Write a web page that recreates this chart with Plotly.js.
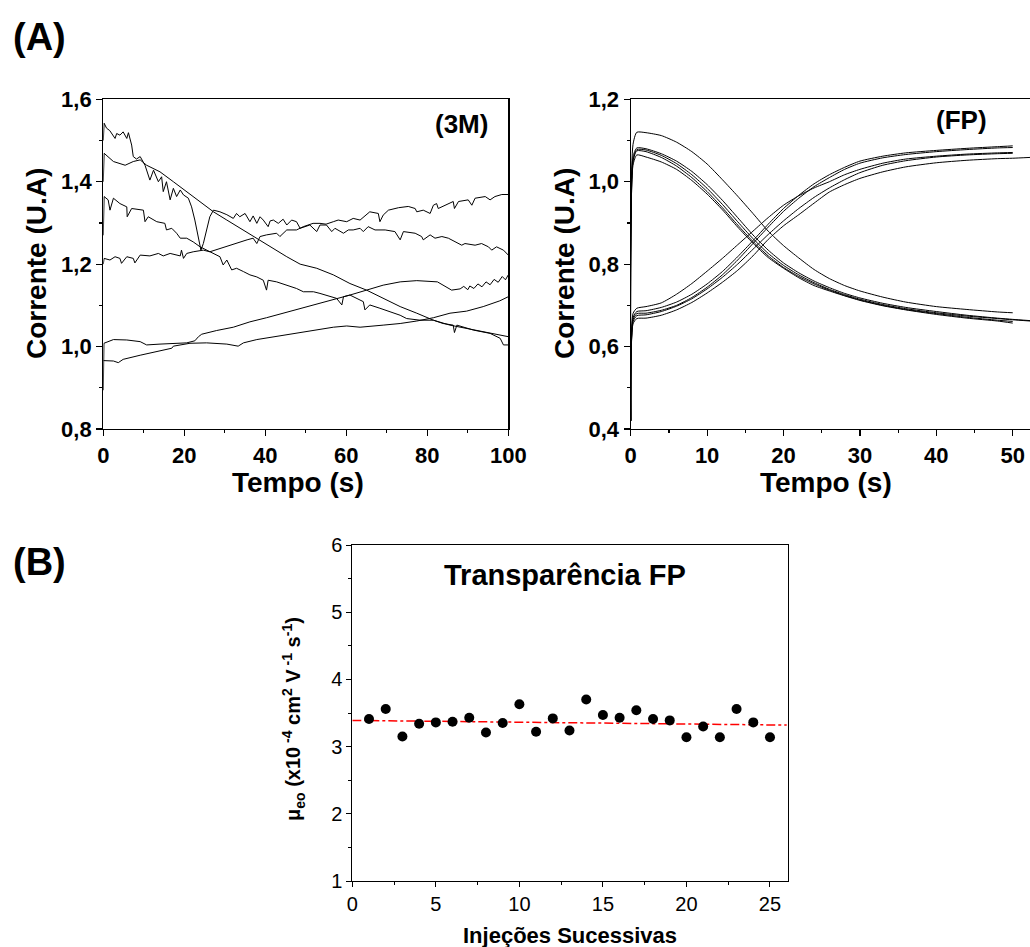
<!DOCTYPE html>
<html>
<head>
<meta charset="utf-8">
<script src="https://cdn.plot.ly/plotly-3.0.1.min.js"></script>
<style>
html,body{margin:0;padding:0;background:#fff;}
#chart{width:1030px;height:947px;}
</style>
</head>
<body>
<div id="chart"></div>
<script>
// ---------- DATA: panel (3M) ----------
const xA = [0,0.2,0.8,1.6,2.9,3.3,4.1,4.9,5.8,6.2,7.0,7.4,8.2,9.1,10.3,11.5,12.4,13.6,14.4,14.8,15.6,16.5,17.3,18.1,19.0,19.8,21.0,21.8,22.6,23.5,24.1,24.7,25.5,26.3,27.2,
  28.8,30.5,32.1,32.9,33.7,35.0,36.2,37.0,37.9,38.7,39.5,40.7,41.2,42.0,43.2,44.4,45.3,46.5,47.7,48.6,51.0,52.7,53.5,55.1,56.4,57.2,59.3,60.5,61.7,63.4,64.2,65.4,67.1,69.6,72.0,73.3,74.1,77.0,78.6,79.0,80.7,81.9,83.6,85.2,86.8,88.5,89.3,91.8,93.4,95.1,95.9,97.1,98.8,100];
const yA = [1.50,1.542,1.530,1.524,1.505,1.517,1.513,1.521,1.505,1.519,1.489,1.461,1.455,1.461,1.440,1.404,1.428,1.400,1.412,1.376,1.400,1.356,1.384,1.364,1.380,1.368,1.360,1.339,1.307,1.267,1.234,1.250,1.283,1.315,1.331,
  1.327,1.320,1.311,1.323,1.315,1.323,1.303,1.317,1.299,1.315,1.307,1.291,1.305,1.307,1.299,1.309,1.295,1.307,1.303,1.287,1.295,1.279,1.295,1.295,1.279,1.287,1.275,1.283,1.283,1.287,1.279,1.291,1.283,1.283,1.279,1.259,1.279,1.275,1.267,1.259,1.271,1.263,1.267,1.263,1.255,1.246,1.250,1.246,1.250,1.242,1.234,1.242,1.234,1.222];

const xB = [0,0.2,1.65,2.9,4.1,4.5,5.8,7.4,7.8,9.1,11.5,13.6,14.8,16.5,19.0,19.3,19.8,20.6,22.2,24.7,26.3,
  28.8,31.3,33.7,35.5,37.0,37.9,38.7,40.3,42.8,43.6,45.3,47.7,49.4,51.8,53.5,55.0,56.8,58.0,60.1,61.7,63.4,65.0,65.8,67.9,68.3,69.1,70.4,72.9,75.3,77.0,77.4,79.0,80.7,81.5,82.3,82.7,84.4,86.4,86.7,87.7,90.1,91.0,91.8,94.3,95.5,96.7,98.4,100];
const yB = [1.20,1.214,1.210,1.218,1.214,1.202,1.218,1.214,1.203,1.222,1.220,1.226,1.220,1.226,1.220,1.234,1.214,1.226,1.230,1.234,1.230,
  1.238,1.247,1.255,1.259,1.263,1.250,1.267,1.271,1.275,1.267,1.283,1.283,1.291,1.299,1.299,1.297,1.303,1.307,1.303,1.311,1.307,1.319,1.327,1.323,1.303,1.319,1.331,1.337,1.340,1.335,1.327,1.331,1.323,1.343,1.347,1.335,1.343,1.352,1.335,1.352,1.356,1.343,1.360,1.364,1.356,1.364,1.369,1.369];

const xC = [0,0.2,2.5,5.4,7.4,9.1,10.7,14.0,17.3,20.6,23.9,27.2,30.5,33.8,37.9,42.0,45.3,48.6,52.7,56.8,60.9,65.0,69.1,73.3,77.4,81.5,85.6,89.7,93.8,98.0,100];
const yC = [1.40,1.469,1.449,1.440,1.449,1.453,1.440,1.424,1.400,1.376,1.351,1.327,1.307,1.287,1.263,1.238,1.218,1.200,1.190,1.174,1.153,1.137,1.117,1.097,1.081,1.064,1.052,1.044,1.036,1.028,1.024];

const xD = [0,0.2,1.2,1.65,2.5,4.1,5.8,5.9,7.0,9.1,9.9,10.3,11.1,13.2,15.2,15.6,16.9,18.1,19.0,20.6,22.2,23.9,25.5,27.2,28.8,29.6,30.5,31.7,32.9,34.6,36.2,37.9,39.5,40.3,40.7,42.8,45.3,47.7,49.4,51.9,53.5,56.0,57.6,58.9,59.3,60.9,64.2,64.6,65.8,68.3,70.8,73.3,74.9,78.2,81.5,83.9,86.4,86.7,87.3,91.4,95.5,98.0,98.8,100];
const yD = [1.27,1.364,1.356,1.331,1.360,1.347,1.339,1.315,1.335,1.331,1.331,1.303,1.315,1.303,1.299,1.283,1.287,1.275,1.263,1.263,1.254,1.242,1.234,1.226,1.218,1.198,1.210,1.186,1.190,1.182,1.174,1.169,1.161,1.137,1.161,1.157,1.149,1.141,1.133,1.133,1.129,1.121,1.117,1.101,1.121,1.125,1.109,1.089,1.101,1.093,1.085,1.076,1.068,1.064,1.064,1.056,1.052,1.034,1.052,1.040,1.032,1.020,1.004,1.004];

const xE = [0,0.16,2.5,5.8,9.1,10.7,14.0,17.3,20.6,22.6,23.5,24.3,28.0,32.1,36.2,40.3,44.4,48.6,52.7,56.8,60.9,65.0,69.1,73.3,77.4,82.5,84.0,86.0,88.1,89.0,90.0,90.5,91.5,92.5,93.5,94.5,95.5,96.5,97.5,98.5,99.3,100];
const yE = [0.894,1.008,1.017,1.016,1.012,1.004,1.006,1.008,1.009,1.014,1.024,1.030,1.039,1.047,1.060,1.070,1.081,1.091,1.102,1.113,1.125,1.137,1.149,1.157,1.160,1.157,1.149,1.137,1.140,1.146,1.138,1.147,1.141,1.152,1.145,1.157,1.150,1.163,1.156,1.170,1.162,1.174];

const xF = [0,2.5,3.7,4.9,9.1,13.2,16.9,17.3,21.4,25.5,30.5,33.3,34.6,37.9,40.3,44.4,48.6,52.7,56.8,60.1,63.4,69.1,73.3,77.4,81.5,85.6,89.7,93.8,97.9,100];
const yF = [0.966,0.965,0.961,0.969,0.979,0.988,0.996,1.001,1.008,1.009,1.006,1.001,1.009,1.017,1.021,1.028,1.034,1.040,1.047,1.050,1.047,1.052,1.056,1.062,1.070,1.081,1.086,1.097,1.111,1.121];

// ---------- DATA: panel (FP) ----------
const tFP  = [0,0.3,0.8,2,4,6,8,10,12,14,16,18,20,22,24,26,28,30,33,36,40,44,48,50];
const tFPx = [0,0.3,0.8,2,4,6,8,10,12,14,16,18,20,22,24,26,28,30,33,36,40,44,48,50,52.3];
const dec1 = [0.42,1.09,1.12,1.119,1.112,1.096,1.073,1.043,1.005,0.965,0.923,0.880,0.845,0.815,0.787,0.765,0.748,0.735,0.720,0.708,0.697,0.690,0.684,0.682];
const dec2 = [0.42,1.06,1.082,1.080,1.068,1.050,1.025,0.993,0.955,0.913,0.871,0.834,0.803,0.779,0.759,0.743,0.729,0.718,0.705,0.695,0.685,0.676,0.669,0.666,0.663];
const dec3 = [0.42,1.05,1.078,1.077,1.064,1.044,1.017,0.984,0.945,0.903,0.862,0.826,0.797,0.774,0.755,0.739,0.726,0.715,0.702,0.692,0.682,0.674,0.668,0.665,0.662];
const dec4 = [0.42,1.05,1.075,1.073,1.059,1.038,1.010,0.976,0.937,0.895,0.855,0.820,0.792,0.770,0.752,0.737,0.724,0.713,0.700,0.690,0.680,0.671,0.664,0.661];
const dec5 = [0.42,1.04,1.065,1.060,1.048,1.030,1.003,0.970,0.932,0.890,0.851,0.816,0.790,0.767,0.748,0.735,0.723,0.712,0.699,0.689,0.678,0.669,0.662,0.657];
const inc1 = [0.42,0.68,0.693,0.697,0.706,0.727,0.753,0.783,0.814,0.847,0.880,0.913,0.943,0.966,0.985,1.000,1.017,1.030,1.045,1.055,1.062,1.067,1.070,1.071];
const inc2 = [0.42,0.67,0.685,0.687,0.695,0.708,0.727,0.752,0.782,0.818,0.857,0.897,0.935,0.967,0.995,1.017,1.035,1.050,1.062,1.070,1.076,1.081,1.085,1.087];
const inc3 = [0.42,0.665,0.680,0.681,0.688,0.700,0.719,0.744,0.774,0.810,0.850,0.890,0.928,0.960,0.988,1.010,1.030,1.045,1.058,1.066,1.073,1.078,1.082,1.083];
const inc4 = [0.42,0.66,0.675,0.677,0.685,0.698,0.716,0.740,0.768,0.800,0.836,0.872,0.905,0.935,0.962,0.985,1.005,1.022,1.040,1.051,1.060,1.065,1.068,1.069];
const inc5 = [0.42,0.655,0.668,0.669,0.676,0.689,0.707,0.730,0.756,0.785,0.820,0.860,0.893,0.920,0.948,0.975,0.993,1.008,1.024,1.036,1.046,1.052,1.056,1.057,1.059];

// ---------- DATA: panel (B) ----------
const injecoes = [1,2,3,4,5,6,7,8,9,10,11,12,13,14,15,16,17,18,19,20,21,22,23,24,25];
const mobilidade = [3.41,3.56,3.15,3.34,3.36,3.37,3.43,3.21,3.35,3.63,3.22,3.42,3.24,3.70,3.47,3.43,3.54,3.41,3.39,3.14,3.30,3.14,3.56,3.36,3.14];
const fitX = [0,26];
const fitY = [3.39,3.32];

// ---------- LAYOUT HELPERS ----------
const W = 1030, H = 947;
const px = v => v / W;
const py = v => 1 - v / H;
const FONT = 'Arial, "Liberation Sans", Helvetica, sans-serif';

const blackLine = {color:'#000', width:1};
const traces = [];
[[xA,yA],[xB,yB],[xC,yC],[xD,yD],[xE,yE],[xF,yF]].forEach(p => {
  traces.push({x:p[0], y:p[1], type:'scatter', mode:'lines', line:blackLine, xaxis:'x', yaxis:'y', hoverinfo:'skip'});
});
[[tFP,dec1],[tFPx,dec2],[tFPx,dec3],[tFP,dec4],[tFP,dec5],[tFP,inc1],[tFP,inc2],[tFP,inc3],[tFP,inc4],[tFPx,inc5]].forEach(p => {
  traces.push({x:p[0], y:p[1], type:'scatter', mode:'lines', line:{color:'#000', width:1, shape:'spline', smoothing:0.6}, xaxis:'x2', yaxis:'y2', hoverinfo:'skip'});
});
traces.push({x:fitX, y:fitY, type:'scatter', mode:'lines', line:{color:'#ff0000', width:1.5, dash:'dashdot'}, xaxis:'x3', yaxis:'y3'});
traces.push({x:injecoes, y:mobilidade, type:'scatter', mode:'markers', marker:{color:'#000', size:10}, xaxis:'x3', yaxis:'y3'});

function topAxis(extra){
  return Object.assign({
    showgrid:false, zeroline:false, showline:true, linecolor:'#000', linewidth:1.2,
    ticks:'outside', ticklen:6, tickwidth:1.2, tickcolor:'#000',
    tickfont:{family:FONT, size:22, color:'#000', weight:'bold'},
    fixedrange:true
  }, extra);
}
function botAxis(extra){
  return Object.assign({
    showgrid:false, zeroline:false, showline:true, linecolor:'#000', linewidth:1,
    ticks:'outside', ticklen:5, tickwidth:1, tickcolor:'#000',
    tickfont:{family:FONT, size:20, color:'#000'},
    fixedrange:true, mirror:true
  }, extra);
}

const ann = (text, x, y, size, opts) => Object.assign({
  text:text, x:px(x), y:py(y), xref:'paper', yref:'paper', showarrow:false,
  xanchor:'center', yanchor:'middle',
  font:{family:FONT, size:size, color:'#000', weight:'bold'}
}, opts||{});

const layout = {
  width:W, height:H, margin:{l:0,r:0,t:0,b:0},
  paper_bgcolor:'#fff', plot_bgcolor:'#fff', showlegend:false,
  separators:', ',
  xaxis: topAxis({domain:[px(103.3), px(508.3)], anchor:'y', range:[0,100], tick0:0, dtick:20, mirror:true,
    minor:{dtick:10, ticks:'outside', ticklen:3, tickcolor:'#000'}}),
  yaxis: topAxis({domain:[py(429), py(99.3)], anchor:'x', range:[0.8,1.6], tick0:0.8, dtick:0.2, tickformat:'.1f', mirror:true,
    minor:{dtick:0.1, ticks:'outside', ticklen:3, tickcolor:'#000'}}),
  xaxis2: topAxis({domain:[px(630.7), 1], anchor:'y2', range:[0,52.26], tick0:0, dtick:10, mirror:true,
    minor:{dtick:5, ticks:'outside', ticklen:3, tickcolor:'#000'}}),
  yaxis2: topAxis({domain:[py(429), py(99.3)], anchor:'x2', range:[0.4,1.2], tick0:0.4, dtick:0.2, tickformat:'.1f', mirror:false,
    minor:{dtick:0.1, ticks:'outside', ticklen:3, tickcolor:'#000'}}),
  xaxis3: botAxis({domain:[px(352.3), px(787.7)], anchor:'y3', range:[0,26.06], tick0:0, dtick:5,
    minor:{dtick:2.5, ticks:'outside', ticklen:3, tickcolor:'#000'}}),
  yaxis3: botAxis({domain:[py(881), py(545)], anchor:'x3', range:[1,6], tick0:1, dtick:1,
    minor:{dtick:0.5, ticks:'outside', ticklen:3, tickcolor:'#000'}}),
  annotations: [
    ann('(A)', 39, 37, 38),
    ann('(B)', 39, 562, 38),
    ann('(3M)', 461, 124, 26),
    ann('(FP)', 961, 120, 26),
    ann('Corrente (U.A)', 36, 264, 28, {textangle:-90}),
    ann('Corrente (U.A)', 564, 264, 28, {textangle:-90}),
    ann('Tempo (s)', 298, 482, 28),
    ann('Tempo (s)', 826, 482, 28),
    ann('Transparência FP', 565, 575, 29),
    ann('Injeções Sucessivas', 570, 935, 22),
    ann('μ<sub>eo</sub> (x10<sup> -4</sup> cm<sup>2</sup> V<sup> -1</sup> s<sup>-1</sup>)', 293, 719, 20, {textangle:-90})
  ]
};

Plotly.newPlot('chart', traces, layout, {staticPlot:true, displayModeBar:false});
</script>
</body>
</html>
